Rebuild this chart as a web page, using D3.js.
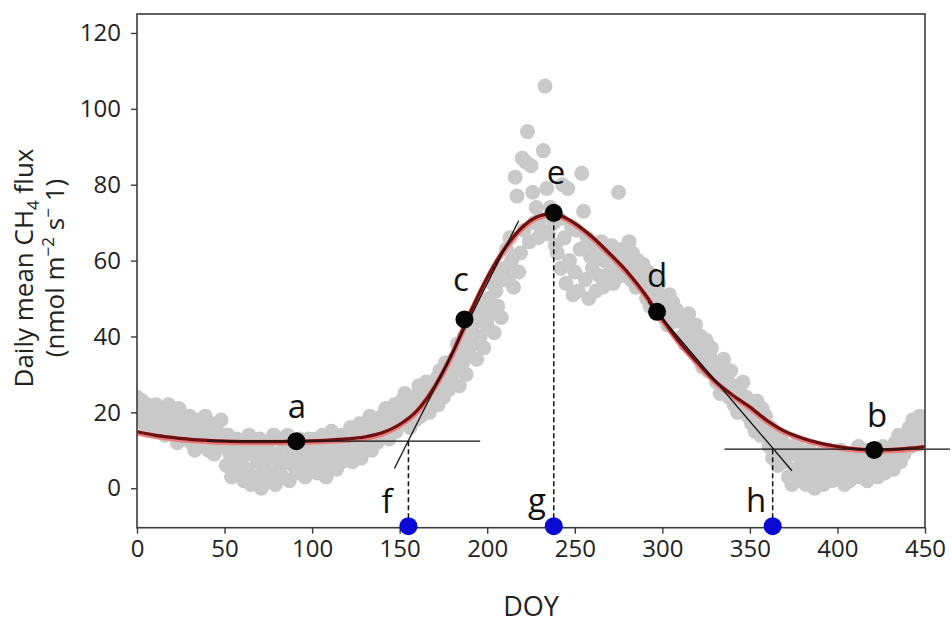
<!DOCTYPE html>
<html>
<head>
<meta charset="utf-8">
<script src="https://cdn.jsdelivr.net/npm/d3@7"></script>
<style>
  html, body { margin: 0; padding: 0; background: #fff; }
  svg { display: block; font-family: "Open Sans", "DejaVu Sans", sans-serif; }
</style>
</head>
<body>
<svg id="chart" width="951" height="623"></svg>
<script>
// ---------------- DATA ----------------
// Daily mean CH4 flux observations (grey points), one value per DOY starting at obsStartDOY
const obsStartDOY = 0;
const obsFlux = [
  // 0-49
  24, 21, 18, 23, 20, 16, 22, 19, 17, 21,
  18, 22, 15, 20, 17, 21, 14, 19, 22, 16,
  20, 15, 18, 12, 21, 16, 13, 19, 14, 17,
  19, 12, 16, 10, 18, 14, 11, 17, 13, 19,
  15, 10, 17, 12, 9, 16, 13, 11, 18, 14,
  // 50-99
  12, 6, 14, 9, 3, 11, 7, 13, 4, 10,
  8, 2, 12, 5, 14, 1, 9, 11, 3, 7,
  13, 0, 6, 10, 2, 12, 4, 8, 14, 1,
  9, 5, 13, 3, 11, 7, 14, 2, 10, 6,
  12, 4, 9, 13, 6, 11, 3, 8, 13, 5,
  // 100-149
  10, 7, 13, 4, 11, 6, 14, 8, 3, 12,
  9, 15, 6, 12, 5, 10, 14, 7, 11, 8,
  13, 9, 16, 7, 12, 15, 10, 17, 8, 14,
  11, 17, 13, 19, 10, 15, 18, 12, 16, 14,
  19, 14, 21, 16, 13, 20, 18, 22, 15, 17,
  // 150-199
  20, 23, 17, 25, 19, 22, 16, 24, 21, 18,
  23, 27, 19, 25, 21, 28, 24, 20, 26, 22,
  25, 29, 22, 31, 27, 24, 33, 28, 26, 30,
  28, 34, 31, 38, 27, 36, 33, 40, 30, 37,
  35, 42, 38, 46, 34, 44, 40, 48, 37, 45,
  // 200-249
  43, 50, 46, 54, 41, 52, 48, 57, 45, 55,
  58, 63, 55, 66, 60, 53, 82, 77, 57, 62,
  87, 68, 86, 94, 65, 85, 78, 70, 74, 66,
  71, 68, 89, 106, 79, 67, 74, 73, 70, 64,
  62, 71, 58, 80, 66, 54, 79, 60, 69, 51,
  // 250-299
  57, 68, 52, 63, 83, 73, 55, 66, 50, 61,
  58, 64, 52, 61, 56, 65, 53, 60, 55, 63,
  57, 64, 54, 62, 59, 78, 56, 63, 60, 58,
  61, 65, 55, 62, 58, 53, 60, 57, 54, 59,
  55, 50, 57, 48, 53, 56, 47, 52, 54, 49,
  // 300-349
  50, 45, 48, 43, 51, 46, 49, 44, 47, 45,
  44, 40, 45, 38, 42, 46, 39, 41, 37, 43,
  38, 34, 40, 32, 36, 39, 31, 35, 37, 33,
  33, 28, 31, 25, 30, 34, 27, 29, 24, 31,
  27, 22, 25, 20, 26, 23, 28, 21, 24, 19,
  // 350-399
  22, 17, 20, 15, 23, 18, 14, 21, 16, 19,
  15, 11, 16, 8, 13, 10, 6, 14, 9, 12,
  7, 11, 3, 9, 1, 10, 5, 12, 2, 8,
  4, 9, 1, 7, 10, 3, 6, 0, 8, 2,
  9, 5, 1, 8, 3, 10, 6, 2, 7, 4,
  // 400-450
  8, 3, 10, 5, 1, 9, 6, 2, 7, 4,
  9, 5, 11, 3, 8, 6, 10, 2, 7, 4,
  8, 5, 10, 3, 9, 6, 11, 4, 7, 9,
  6, 10, 5, 12, 8, 14, 7, 11, 9, 13,
  12, 16, 11, 18, 14, 17, 13, 19, 15, 18,
  17
];

// Fitted seasonal curve
const fitDOY  = [0, 10, 20, 30, 40, 50, 60, 70, 80, 90, 100, 110, 120, 130, 140, 150, 160, 170, 180, 190,
                 200, 210, 220, 230, 238, 245, 250, 260, 270, 280, 290, 297, 300, 310, 320, 330, 340, 350,
                 360, 370, 380, 390, 400, 410, 420, 430, 440, 450];
const fitFlux = [14.9, 14.0, 13.4, 12.9, 12.6, 12.4, 12.3, 12.3, 12.3, 12.4, 12.5, 12.7, 13.0, 13.5, 14.6, 16.8, 20.5, 26.8, 35.5, 46.0,
                 55.5, 63.2, 68.8, 71.8, 72.4, 71.2, 69.8, 66.2, 61.8, 57.0, 51.2, 46.5, 44.6, 38.4, 33.2, 28.3, 24.6, 21.4,
                 17.8, 15.0, 13.2, 11.9, 11.0, 10.4, 10.1, 10.2, 10.5, 11.0];

// Key points a–e (black)
const keyLabels = ["a", "b", "c", "d", "e"];
const keyDOY    = [91, 421, 187, 297, 238];
const keyFlux   = [12.4, 10.1, 44.5, 46.5, 72.6];

// Phenology dates f–h (blue, on x axis)
const phenoLabels = ["f", "g", "h"];
const phenoDOY    = [155, 238, 363];
const phenoBase   = -10;
const phenoTop    = [12.4, 72.6, 10.3];

// Reference lines: [x1, y1, x2, y2] in data units
const baseLineA   = [40, 12.4, 196, 12.4];
const tangentUp   = [147, 5.2, 218, 70.5];
const baseLineB   = [335.5, 10.3, 464.3, 10.3];
const tangentDown = [292, 49.1, 374, 4.6];

// Axis ticks
const xTicks = [0, 50, 100, 150, 200, 250, 300, 350, 400, 450];
const yTicks = [0, 20, 40, 60, 80, 100, 120];

// ---------------- CHART ----------------
const svg = d3.select("#chart");
const L = 137, R = 925, T = 14, B = 527.7;
const x = d3.scaleLinear().domain([0, 450]).range([L, R]);
const y = d3.scaleLinear().domain([-10.4, 125]).range([B, T]);
const axisColor = "#3a3a3a";

svg.append("defs").append("clipPath").attr("id", "plotclip")
  .append("rect").attr("x", L).attr("y", T).attr("width", R - L).attr("height", B - T);

const plot = svg.append("g").attr("clip-path", "url(#plotclip)");

// grey observations
plot.append("g").selectAll("circle").data(obsFlux).join("circle")
  .attr("cx", (d, i) => x(obsStartDOY + i))
  .attr("cy", d => y(d))
  .attr("r", 7.5)
  .attr("fill", "#c9c9c9");

// fitted curve
const fitData = fitDOY.map((d, i) => [d, fitFlux[i]]);
const line = d3.line().x(d => x(d[0])).y(d => y(d[1])).curve(d3.curveMonotoneX);
plot.append("path").datum(fitData).attr("d", line)
  .attr("fill", "none").attr("stroke", "#ec7a78").attr("stroke-width", 5.5)
  .attr("transform", "translate(0,1)");
plot.append("path").datum(fitData).attr("d", line)
  .attr("fill", "none").attr("stroke", "#6a1212").attr("stroke-width", 3.2);

// reference lines (unclipped)
const refs = svg.append("g");
[baseLineA, tangentUp, baseLineB, tangentDown].forEach(s => {
  refs.append("line")
    .attr("x1", x(s[0])).attr("y1", y(s[1]))
    .attr("x2", x(s[2])).attr("y2", y(s[3]))
    .attr("stroke", "#111").attr("stroke-width", 1.3);
});

// dashed verticals
phenoDOY.forEach((d, i) => {
  refs.append("line")
    .attr("x1", x(d)).attr("x2", x(d))
    .attr("y1", y(phenoBase)).attr("y2", y(phenoTop[i]))
    .attr("stroke", "#111").attr("stroke-width", 1.5)
    .attr("stroke-dasharray", "5,3");
});

// axes frame
const frame = svg.append("g");
frame.append("rect").attr("x", L).attr("y", T).attr("width", R - L).attr("height", B - T)
  .attr("fill", "none").attr("stroke", axisColor).attr("stroke-width", 1.6);

const xAxis = svg.append("g").attr("transform", `translate(0,${B})`)
  .call(d3.axisBottom(x).tickValues(xTicks).tickSize(6).tickSizeOuter(0).tickPadding(6));
const yAxis = svg.append("g").attr("transform", `translate(${L},0)`)
  .call(d3.axisLeft(y).tickValues(yTicks).tickSize(6).tickSizeOuter(0).tickPadding(10));
[xAxis, yAxis].forEach(a => {
  a.select(".domain").remove();
  a.selectAll("line").attr("stroke", axisColor).attr("stroke-width", 1.4);
  a.selectAll("text").attr("fill", "#222").style("font-size", "24px")
    .style("font-family", '"Open Sans", "DejaVu Sans", sans-serif');
});

// black key points
svg.append("g").selectAll("circle").data(keyDOY).join("circle")
  .attr("cx", d => x(d)).attr("cy", (d, i) => y(keyFlux[i]))
  .attr("r", 9).attr("fill", "#050505");

// blue pheno points
svg.append("g").selectAll("circle").data(phenoDOY).join("circle")
  .attr("cx", d => x(d)).attr("cy", y(phenoBase))
  .attr("r", 9).attr("fill", "#0a0ad4");

// letter labels
const labelPos = {
  a: [297, 418], b: [877, 427], c: [461, 291], d: [657, 287], e: [556, 184],
  f: [387, 513], g: [537, 512], h: [756, 512]
};
Object.keys(labelPos).forEach(k => {
  svg.append("text").attr("x", labelPos[k][0]).attr("y", labelPos[k][1])
    .attr("text-anchor", "middle").style("font-size", "33px").attr("fill", "#111").text(k);
});

// axis titles
svg.append("text").attr("x", (L + R) / 2).attr("y", 616)
  .attr("text-anchor", "middle").style("font-size", "27px").attr("fill", "#222").text("DOY");

const yt = svg.append("text").attr("transform", "translate(0,268) rotate(-90)")
  .attr("text-anchor", "middle").style("font-size", "26px").attr("fill", "#222");
yt.append("tspan").attr("x", 0).attr("y", 33).text("Daily mean CH");
yt.append("tspan").style("font-size", "17px").attr("dy", 6).text("4");
yt.append("tspan").attr("dy", -6).text(" flux");
const yt2 = svg.append("text").attr("transform", "translate(0,268) rotate(-90)")
  .attr("text-anchor", "middle").style("font-size", "26px").attr("fill", "#222");
yt2.append("tspan").attr("x", 0).attr("y", 64).text("(nmol m");
yt2.append("tspan").style("font-size", "17px").attr("dy", -10).text("−2");
yt2.append("tspan").attr("dy", 10).text(" s");
yt2.append("tspan").style("font-size", "17px").attr("dy", -10).text("−");
yt2.append("tspan").attr("dy", 10).text(" 1)");
</script>
</body>
</html>
